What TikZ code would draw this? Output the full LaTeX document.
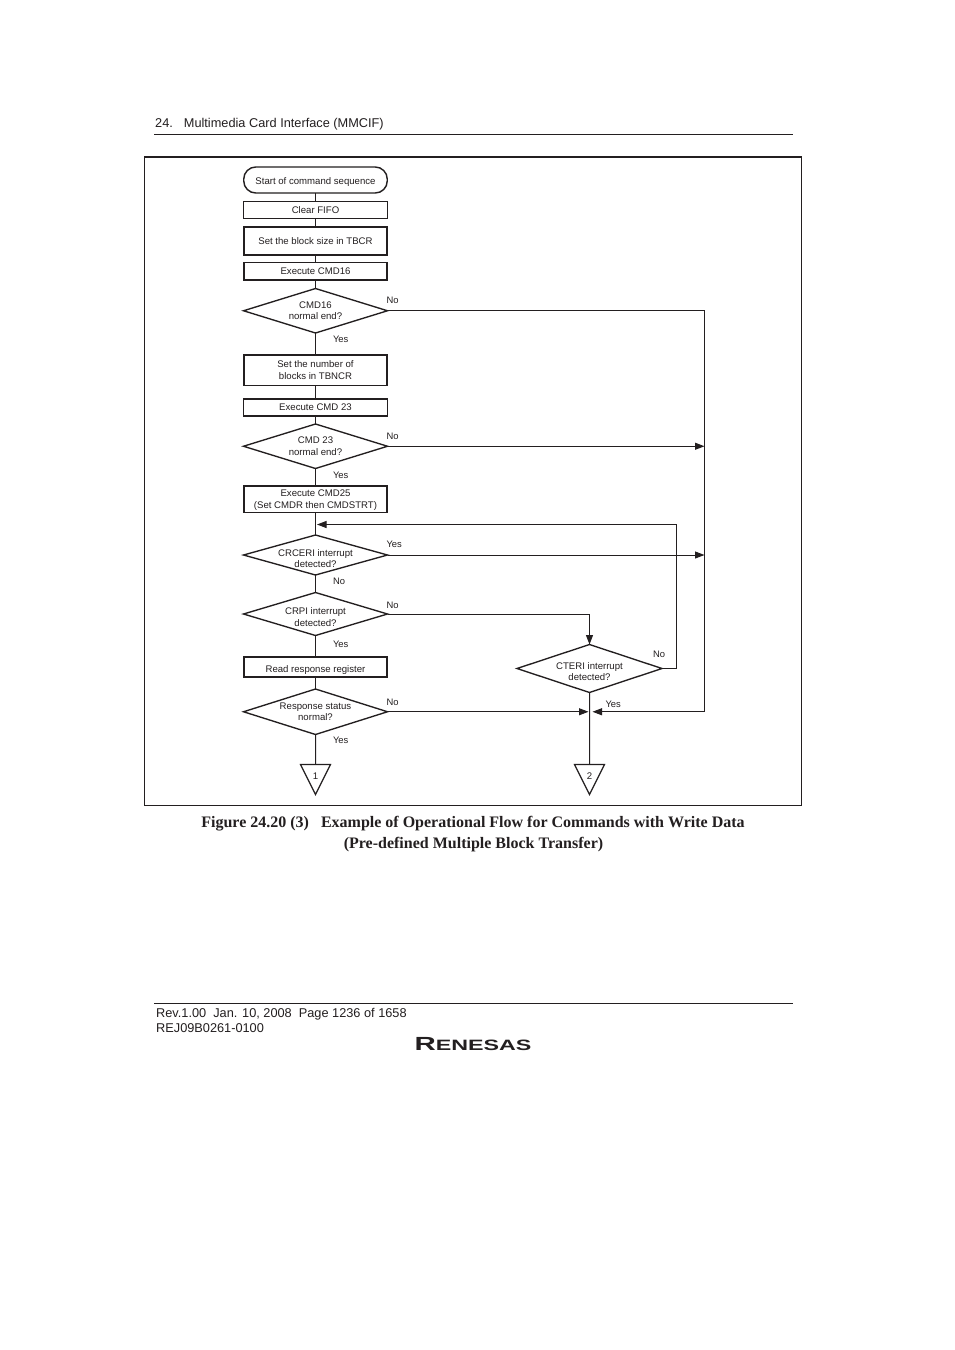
\documentclass[tikz,border=0pt]{standalone}
\usepackage{fontspec}
\setmainfont{Liberation Sans}
\newfontfamily\captionfont{Liberation Serif}
\usetikzlibrary{shapes.geometric, arrows.meta, positioning, calc}
\definecolor{colInk}{RGB}{35,31,32}
\tikzset{
  box/.style={
    rectangle, draw=colInk, line width=1.2pt,
    text=colInk, align=center, outer sep=0pt, inner sep=0pt,
    font=\fontsize{9.6}{11.5}\selectfont,
    minimum width=143.5pt
  },
  boxThick/.style={box, line width=1.6pt},
  startBox/.style={box, line width=1.4pt, rounded corners=12pt, minimum height=26pt},
  decision/.style={
    box, diamond, aspect=3.2, inner xsep=-15pt, inner ysep=-5pt,
    line width=1.35pt, minimum width=144pt
  },
  connector/.style={
    box, isosceles triangle, shape border rotate=-90,
    isosceles triangle stretches, minimum width=30pt, minimum height=30pt
  },
  flowLabel/.style={font=\fontsize{9.4}{11}\selectfont, text=colInk, inner sep=0pt, outer sep=0pt},
  pageText/.style={font=\fontsize{12.75}{15}\selectfont, text=colInk, inner sep=0pt, anchor=west},
  captionText/.style={font=\captionfont\bfseries\fontsize{16}{18}\selectfont, text=colInk, inner sep=0pt},
  rule/.style={draw=colInk, line width=0.9pt},
  line/.style={draw=colInk, line width=1pt},
  arr/.style={line, -{Triangle[length=9.5pt, width=7pt]}},
}
\begin{document}
\begin{tikzpicture}[x=1pt, y=-1pt]
\fill[white] (0,0) rectangle (954,1350);
\useasboundingbox (0,0) rectangle (954,1350);

% ---- Page furniture --------------------------------------------
\node[pageText] (header) at (155,124.5) {24.\hspace{11pt}Multimedia Card Interface (MMCIF)};
\node[captionText] (capA) at (473,823.5) {Figure 24.20 (3)\hspace{12pt}Example of Operational Flow for Commands with Write Data};
\node[captionText] (capB) at (473.5,844.5) {(Pre-defined Multiple Block Transfer)};
\node[pageText] (rev) at (156,1014.5) {Rev.1.00\ \ Jan. 10, 2008\ \ Page 1236 of 1658};
\node[pageText] (rej) at (156,1028.5) {REJ09B0261-0100};
\node[inner sep=0pt, text=colInk] (logo) at (473,1044.5) {\scalebox{1.55}[1]{\fontsize{19}{20}\selectfont\bfseries R\fontsize{15}{20}\selectfont ENESAS}};
\draw[rule] (154,134.5) -- (793,134.5);
\draw[rule] (154,1003.5) -- (793,1003.5);
\draw[line] (144.5,157) -- (144.5,805.5) -- (801.5,805.5) -- (801.5,157);
\draw[draw=colInk, line width=2pt] (144,157) -- (802,157);

% ---- Nodes (main column, top to bottom) ------------------------
\node[startBox] (start) at (315.5,180) {\\[0pt]Start of command sequence};
\node[box, below=8.5pt of start, minimum height=17pt] (fifo) {Clear FIFO};
\node[boxThick, below=8.5pt of fifo, minimum height=28pt] (tbcr) {Set the block size in TBCR};
\node[boxThick, below=7.5pt of tbcr, minimum height=17.5pt] (cmdA) {Execute CMD16};
\node[decision, below=8.5pt of cmdA, minimum height=44.5pt] (endA) {CMD16\\normal end?};
\node[boxThick, below=22pt of endA, minimum height=30.5pt] (tbncr) {Set the number of\\blocks in TBNCR};
\node[box, below=13.5pt of tbncr, minimum height=17pt] (cmdB) {Execute CMD 23};
\node[decision, below=8pt of cmdB, minimum height=44.5pt] (endB) {CMD 23\\normal end?};
\node[boxThick, below=17.5pt of endB, minimum height=26.5pt] (cmdC) {\\[-3pt]Execute CMD25\\(Set CMDR then CMDSTRT)};
\node[decision, below=22.5pt of cmdC, minimum height=40pt] (crceri) {\\[3pt]CRCERI interrupt\\detected?};
\node[decision, below=17.5pt of crceri, minimum height=43pt] (crpi) {\\[2pt]CRPI interrupt\\detected?};
\node[boxThick, below=21.5pt of crpi, minimum height=20pt] (resp) {\\[1pt]Read response register};
\node[decision, below=12pt of resp, minimum height=45.5pt] (status) {Response status\\normal?};
\node[connector, below=30pt of status] (pageA) {\\[-1pt]1};

% ---- Nodes (right column) --------------------------------------
\node[decision, minimum width=145pt, minimum height=48pt] (cteri) at (589.5,668.5) {\\[1.5pt]CTERI interrupt\\detected?};
\node[connector, anchor=north] (pageB) at (589.5,764.5) {\\[-1pt]2};
\coordinate (joinR) at (704.5,711.75);
\coordinate (joinM) at (589.5,711.75);
\coordinate (loopR) at (676.5,668.5);
\coordinate (loopM) at (315.5,524.5);

% ---- Arrows ----------------------------------------------------
\draw[line] (start) -- (fifo);
\draw[line] (fifo) -- (tbcr);
\draw[line] (tbcr) -- (cmdA);
\draw[line] (cmdA) -- (endA);
\draw[line] (endA) -- (tbncr);
\draw[line] (tbncr) -- (cmdB);
\draw[line] (cmdB) -- (endB);
\draw[line] (endB) -- (cmdC);
\draw[line] (cmdC) -- (crceri);
\draw[line] (crceri) -- (crpi);
\draw[line] (crpi) -- (resp);
\draw[line] (resp) -- (status);
\draw[line] (status) -- (pageA);
\draw[line] (cteri) -- (pageB);

\draw[arr] (endA.east) -| (joinR) -- ($(joinM)+(3,0)$);
\draw[arr] (endB.east) -- (endB.east -| joinR);
\draw[arr] (crceri.east) -- (crceri.east -| joinR);
\draw[arr] (crpi.east) -| (cteri.north);
\draw[arr] (status.east) -- ($(joinM)+(-1,0)$);
\draw[arr] (cteri.east) -- (loopR) |- ($(loopM)+(1.5,0)$);

% ---- Labels ----------------------------------------------------
\node[flowLabel, above right=7pt and -1pt of endA.east] (noA) {No};
\node[flowLabel, below right=3pt and 17.5pt of endA.south] (yesA) {Yes};
\node[flowLabel, above right=7pt and -1pt of endB.east] (noB) {No};
\node[flowLabel, below right=4pt and 17.5pt of endB.south] (yesB) {Yes};
\node[flowLabel, above right=7.5pt and -1pt of crceri.east] (yesC) {Yes};
\node[flowLabel, below right=3.5pt and 17.5pt of crceri.south] (noC) {No};
\node[flowLabel, above right=5pt and -1pt of crpi.east] (noD) {No};
\node[flowLabel, below right=6pt and 17.5pt of crpi.south] (yesD) {Yes};
\node[flowLabel, above right=6.5pt and -1pt of status.east] (noE) {No};
\node[flowLabel, below right=3pt and 17.5pt of status.south] (yesE) {Yes};
\node[flowLabel, above right=11pt and -9pt of cteri.east] (noF) {No};
\node[flowLabel, below right=9pt and 16pt of cteri.south] (yesF) {Yes};

\end{tikzpicture}
\end{document}
